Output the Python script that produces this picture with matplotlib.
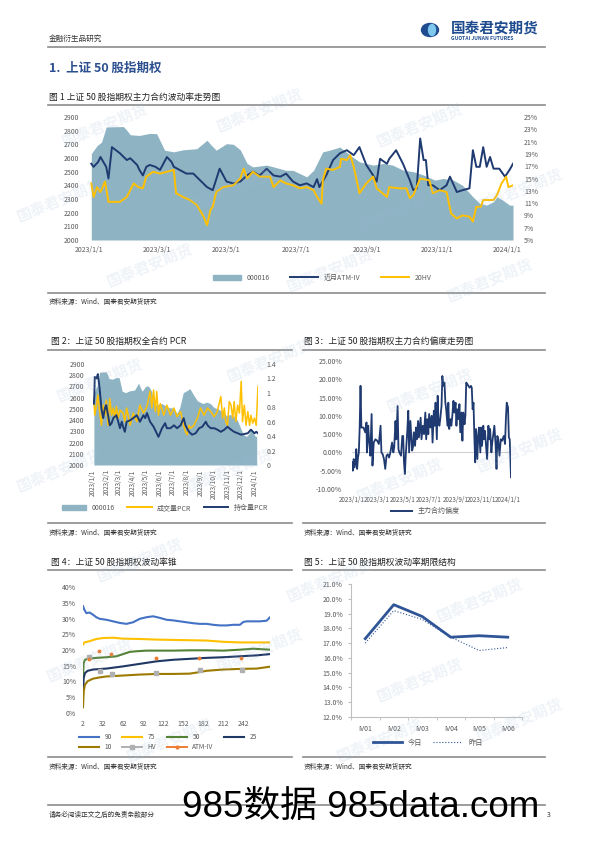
import numpy as np
import matplotlib
matplotlib.use("Agg")
from matplotlib import pyplot as plt
from matplotlib.lines import Line2D
from matplotlib.patches import Patch, Ellipse

plt.rcParams['font.family'] = ['Noto Sans CJK SC', 'DejaVu Sans']

# ---------------- data ----------------
# 000016 (SSE 50) index, days since 2023/1/1
idx_days = [2, 7, 11, 15, 30, 33, 36, 44, 53, 59, 66, 74, 82, 94, 103, 106, 111, 120, 126, 132,
            138, 143, 155, 161, 172, 178, 190, 196, 204, 210, 219, 228, 236, 242, 248, 257, 265,
            274, 283, 292, 302, 309, 318, 326, 335, 341, 347, 353, 356, 361, 367, 370]
idx_vals = [2632, 2690, 2717, 2827, 2830, 2803, 2770, 2765, 2780, 2778, 2657, 2645, 2660, 2668, 2730,
            2700, 2657, 2705, 2700, 2660, 2560, 2535, 2548, 2535, 2510, 2510, 2462, 2510, 2645, 2657,
            2680, 2620, 2572, 2560, 2548, 2560, 2548, 2511, 2500, 2475, 2438, 2450, 2438, 2400,
            2316, 2268, 2255, 2280, 2316, 2292, 2255, 2255]

# near month ATM-IV (%)
iv_days = [2, 4, 8, 10, 15, 17, 20, 27, 33, 36, 42, 44, 47, 50, 53, 58, 62, 68, 72, 74, 79, 85, 91,
           97, 103, 108, 114, 120, 126, 132, 138, 143, 149, 155, 161, 167, 172, 178, 184, 190, 196,
           199, 201, 207, 213, 219, 225, 231, 236, 242, 248, 251, 254, 260, 262, 268, 274, 280, 283,
           286, 289, 292, 294, 296, 300, 306, 312, 315, 321, 326, 332, 335, 338, 341, 344, 347, 350,
           353, 358, 363, 367, 370]
iv_vals = [17.4, 16.9, 17.7, 18.5, 16.9, 15.0, 20.1, 19.1, 18.0, 18.3, 17.2, 16.4, 15.5, 16.9, 17.2,
           16.9, 16.4, 18.5, 17.7, 16.9, 16.4, 15.8, 15.8, 14.7, 13.6, 13.1, 16.6, 14.5, 14.2, 14.5,
           15.5, 16.1, 15.5, 16.6, 15.5, 15.3, 15.8, 14.5, 13.9, 14.2, 13.6, 14.9, 13.6, 15.5, 18.0,
           19.1, 19.6, 18.8, 20.1, 17.2, 15.5, 14.5, 18.2, 17.4, 18.2, 19.6, 17.4, 14.7, 13.1, 13.4,
           21.5, 18.0, 18.0, 13.9, 13.9, 13.1, 13.9, 15.3, 12.8, 13.1, 13.4, 19.6, 16.9, 16.9, 20.1,
           16.9, 18.5, 16.6, 16.6, 15.3, 16.4, 17.4]

# 20 day HV (%)
hv_days = [2, 4, 7, 10, 14, 17, 27, 33, 39, 43, 47, 50, 56, 62, 68, 74, 76, 82, 88, 94, 100, 103, 106,
           108, 111, 117, 126, 132, 135, 138, 143, 149, 158, 161, 167, 172, 178, 184, 190, 196, 199,
           203, 204, 207, 213, 219, 220, 225, 228, 231, 236, 242, 248, 251, 260, 262, 271, 277, 280,
           283, 289, 297, 300, 306, 312, 316, 321, 326, 332, 335, 338, 342, 344, 353, 356, 360, 364,
           366, 370]
hv_vals = [14.2, 12.0, 13.6, 12.8, 14.5, 11.2, 11.2, 12.0, 14.2, 13.6, 13.4, 15.3, 16.1, 15.8, 16.1,
           16.4, 12.6, 12.0, 11.5, 10.7, 8.8, 7.4, 9.9, 10.4, 12.8, 13.6, 13.9, 15.0, 16.6, 15.0, 16.1,
           15.3, 15.3, 13.6, 14.7, 14.2, 13.9, 13.4, 13.6, 13.1, 12.0, 10.9, 14.7, 16.6, 16.4, 16.9,
           18.2, 18.0, 18.8, 16.9, 12.6, 14.2, 15.3, 13.4, 12.0, 13.6, 13.4, 13.4, 11.8, 12.3, 15.0,
           14.7, 12.6, 13.1, 12.8, 9.3, 8.5, 9.0, 8.8, 8.0, 10.4, 10.4, 11.5, 11.5, 12.3, 14.2, 15.3,
           13.6, 13.9]

month_ticks = [0, 59, 120, 181, 243, 304, 365]
month_labels = ['2023/1/1', '2023/3/1', '2023/5/1', '2023/7/1', '2023/9/1', '2023/11/1', '2024/1/1']
all_month_ticks = [0, 31, 59, 90, 120, 151, 181, 212, 243, 273, 304, 334, 365]
all_month_labels = ['2023/1/1', '2023/2/1', '2023/3/1', '2023/4/1', '2023/5/1', '2023/6/1', '2023/7/1',
                    '2023/8/1', '2023/9/1', '2023/10/1', '2023/11/1', '2023/12/1', '2024/1/1']

# PCR
vol_pcr_days = [2, 4, 8, 11, 15, 19, 23, 27, 30, 34, 38, 42, 46, 49, 53, 57, 61, 68, 72, 76, 84, 91,
                99, 106, 114, 122, 129, 133, 137, 141, 144, 148, 152, 160, 167, 175, 183, 190, 198,
                205, 209, 213, 217, 221, 228, 236, 243, 251, 259, 266, 274, 281, 289, 293, 297, 300,
                304, 308, 312, 316, 319, 323, 327, 331, 335, 338, 342, 346, 350, 354, 357, 361, 365,
                369, 373]
vol_pcr = [0.88, 0.69, 0.83, 0.97, 0.74, 0.55, 0.83, 0.69, 0.90, 0.55, 0.92, 0.69, 0.79, 0.65, 0.81,
           0.65, 0.76, 0.72, 0.60, 0.79, 0.55, 0.72, 0.60, 0.83, 0.72, 0.81, 1.02, 0.79, 1.04, 0.74,
           1.02, 0.69, 0.85, 0.69, 0.83, 0.69, 0.79, 0.67, 0.74, 0.55, 0.46, 0.42, 0.55, 0.51, 0.55,
           0.65, 0.79, 0.69, 0.79, 0.74, 0.67, 0.74, 0.95, 0.65, 0.79, 0.60, 0.55, 0.88, 0.83, 0.65,
           0.88, 0.60, 0.83, 0.72, 1.16, 0.60, 0.83, 0.55, 0.74, 0.55, 0.69, 0.58, 0.65, 0.55, 1.09]
oi_pcr_days = [2, 3, 4, 8, 11, 15, 19, 23, 27, 30, 34, 38, 42, 46, 53, 61, 65, 68, 72, 76, 84, 91, 99,
               106, 114, 118, 122, 129, 137, 144, 148, 156, 163, 167, 175, 183, 190, 198, 205, 209,
               217, 224, 232, 240, 247, 255, 259, 266, 274, 281, 289, 297, 304, 312, 319, 327, 335,
               342, 350, 357, 365, 369, 373]
oi_pcr = [0.85, 0.97, 1.22, 1.20, 1.26, 1.06, 0.79, 0.65, 0.79, 0.83, 0.69, 0.55, 0.58, 0.65, 0.69,
          0.51, 0.60, 0.53, 0.46, 0.60, 0.62, 0.65, 0.69, 0.60, 0.69, 0.65, 0.72, 0.60, 0.53, 0.44,
          0.39, 0.51, 0.58, 0.51, 0.51, 0.55, 0.51, 0.55, 0.65, 0.55, 0.46, 0.42, 0.44, 0.51, 0.53,
          0.60, 0.55, 0.51, 0.51, 0.49, 0.46, 0.49, 0.53, 0.49, 0.46, 0.44, 0.42, 0.43, 0.44, 0.49,
          0.44, 0.46, 0.44]

# main contract skew (%)
skew_days = [0, 2, 4, 6, 9, 10, 12, 14, 16, 18, 20, 22, 27, 31, 34, 35, 38, 40, 43, 46, 48, 51, 55,
             59, 63, 67, 69, 72, 75, 78, 81, 84, 87, 90, 94, 97, 99, 102, 104, 107, 109, 111, 115,
             118, 120, 122, 124, 126, 130, 132, 134, 137, 139, 141, 143, 145, 148, 150, 152, 155,
             157, 161, 163, 166, 169, 172, 174, 177, 179, 181, 184, 187, 189, 192, 194, 196, 199,
             201, 203, 205, 207, 210, 212, 214, 217, 219, 221, 224, 226, 228, 231, 233, 235, 238,
             240, 243, 245, 247, 250, 252, 254, 257, 259, 261, 264, 266, 268, 271, 273, 276, 279,
             281, 283, 285, 287, 289, 291, 294, 296, 298, 301, 303, 305, 308, 310, 312, 315, 317,
             320, 322, 324, 327, 329, 331, 334, 337, 339, 341, 343, 346, 349, 352, 356, 359, 361,
             363, 366, 368, 370, 373]
skew_vals = [-2.7, -5.0, -1.8, -4.1, -2.3, 0.9, -4.5, -1.4, 0.0, 6.8, 18.2, 6.8, 6.8, 5.5, 8.2, 0.0,
             7.3, 3.6, -0.9, 10.5, -3.6, 2.7, 3.6, 3.2, 2.3, 7.3, 0.0, -0.5, -1.8, -4.5, -0.9, -0.5,
             -1.4, 0.0, 2.7, 0.0, 1.4, 8.6, 3.6, 12.7, 0.9, 0.0, -0.9, 4.5, 4.5, -2.7, -5.9, -0.9,
             6.4, 11.4, 0.0, 8.6, 4.5, 0.5, 1.4, 5.5, 1.8, 6.8, 3.6, 8.6, 4.1, 9.5, 3.6, 7.3, 5.0,
             10.9, 3.6, 9.1, 5.0, 10.5, 6.8, 10.0, 2.7, 11.4, 7.3, 13.6, 3.6, 15.5, 8.2, 7.3, 9.1,
             12.7, 20.9, 18.2, 19.1, 13.6, 11.8, 7.3, 13.6, 6.4, 9.1, 7.3, 9.5, 14.1, 10.9, 13.6, 7.3,
             11.8, 9.1, 13.2, 5.5, 10.9, 3.2, 10.9, 7.7, 10.0, 19.1, 18.6, 18.2, 17.7, 18.2, 17.7,
             11.8, 13.6, 4.5, -2.7, 6.4, -1.8, 4.5, 6.8, 0.0, 6.8, 1.8, 7.3, 3.6, 5.9, 0.9, -1.8, 7.3,
             3.6, 6.4, 0.0, 2.7, 4.5, 7.3, 1.8, -4.5, 4.5, 3.6, -0.9, 3.6, 3.2, 4.5, 2.3, 9.1, 13.6,
             12.3, 4.1, 3.6, -6.8]

# volatility cone (%), x = days to expiry
cone90_x = [2, 4, 7, 12, 17, 22, 27, 37, 47, 57, 67, 77, 87, 97, 107, 117, 127, 137, 147, 157, 167,
            177, 187, 197, 207, 217, 227, 237, 242, 247, 257, 267, 277, 282]
cone90 = [33.9, 32.8, 31.7, 31.9, 31.2, 30.4, 29.9, 29.6, 29.1, 28.6, 28.3, 28.8, 29.9, 30.4, 30.7,
          30.2, 29.6, 29.4, 29.1, 28.8, 28.5, 28.3, 28.3, 28.0, 27.8, 27.8, 28.0, 28.0, 28.9, 29.1,
          29.1, 29.1, 29.3, 30.4]
cone75_x = [2, 4, 12, 22, 32, 47, 62, 87, 112, 137, 162, 187, 212, 237, 282]
cone75 = [21.7, 22.4, 22.8, 23.5, 23.8, 23.9, 23.6, 23.5, 23.3, 23.2, 23.1, 23.0, 22.6, 22.4, 22.4]
cone50_x = [2, 3, 5, 9, 22, 37, 52, 62, 72, 82, 97, 137, 162, 187, 212, 237, 257, 282]
cone50 = [11.6, 15.9, 16.9, 17.2, 17.5, 17.7, 18.0, 18.7, 19.4, 19.6, 19.8, 19.8, 19.9, 19.9, 19.8,
          20.1, 20.4, 20.1]
cone25_x = [2, 3, 5, 9, 17, 37, 62, 87, 112, 137, 162, 187, 212, 237, 262, 282]
cone25 = [5.3, 11.1, 12.7, 13.4, 13.8, 14.1, 14.8, 15.6, 16.4, 16.9, 17.2, 17.5, 17.7, 18.0, 18.3, 18.7]
cone10_x = [2, 3, 5, 9, 17, 27, 37, 62, 87, 112, 137, 162, 177, 187, 212, 237, 262, 282]
cone10 = [1.8, 6.9, 9.0, 10.1, 10.9, 11.3, 11.6, 11.9, 12.2, 12.4, 12.4, 12.5, 13.0, 13.4, 13.8, 14.0,
          14.1, 14.7]
cone_hv_x = [11, 27, 46, 111, 177, 240]
cone_hv = [17.7, 13.4, 12.4, 12.7, 13.7, 13.7]
cone_iv_x = [11, 26, 44, 111, 176, 238]
cone_iv = [17.3, 19.6, 18.8, 17.4, 17.5, 17.4]

# term structure
terms = ['IV01', 'IV02', 'IV03', 'IV04', 'IV05', 'IV06']
today = [17.3, 19.6, 18.8, 17.4, 17.5, 17.4]
yesterday = [17.0, 19.2, 18.6, 17.4, 16.5, 16.7]

# ---------------- colors ----------------
AREA = '#8EB4C4'
NAVY = '#1F3A70'
GOLD = '#FFC000'
TICK = '#595959'
RULE = '#8C8C8C'

W, H = 595, 842
fig = plt.figure(figsize=(W / 100, H / 100), dpi=100)


def rect(x0, y0, x1, y1):
    return [x0 / W, 1 - y1 / H, (x1 - x0) / W, (y1 - y0) / H]


def text(x, y, s, **kw):
    fig.text(x / W, 1 - y / H, s, va='center', **kw)


def rule(x0, x1, y, color=RULE, lw=1.2):
    fig.add_artist(Line2D([x0 / W, x1 / W], [1 - y / H, 1 - y / H], color=color, lw=lw))


def clean(ax):
    for s in ax.spines.values():
        s.set_visible(False)
    ax.tick_params(length=0, labelsize=5, colors=TICK)


pct = lambda v, p: f'{v:.0f}%'

# ---------------- header ----------------
text(49, 39, '金融衍生品研究', fontsize=5.5, color='#333333')
fig.add_artist(Ellipse((430 / W, 1 - 30 / H), 17 / W, 13 / H, color='#1E4C8E'))
fig.add_artist(Ellipse((432 / W, 1 - 30 / H), 7 / W, 11 / H, color='#7FC8EE'))
text(451, 28, '国泰君安期货', fontsize=10.5, color='#1E4C8E', fontweight='bold')
text(451, 39, 'GUOTAI JUNAN FUTURES', fontsize=3.6, color='#1E4C8E', fontweight='bold')
rule(48, 545, 47)
text(49, 68, '1.  上证 50 股指期权', fontsize=9, color='#2C4F8F', fontweight='bold')

# ---------------- figure 1 ----------------
text(49, 97, '图 1 上证 50 股指期权主力合约波动率走势图', fontsize=6.3, color='#222222')
rule(48, 545, 105)
ax1 = fig.add_axes(rect(89, 117, 513, 240))
ax1.fill_between(idx_days, idx_vals, 2000, color=AREA, lw=0)
ax1.set_xlim(2, 370)
ax1.set_ylim(2000, 2900)
ax1.set_yticks(range(2000, 2901, 100))
ax1.set_xticks(month_ticks)
ax1.set_xticklabels(month_labels)
clean(ax1)
ax1.tick_params(axis='y', pad=7)
ax1.tick_params(axis='x', pad=4)
ax1r = ax1.twinx()
ax1r.plot(iv_days, iv_vals, color=NAVY, lw=1.4)
ax1r.plot(hv_days, hv_vals, color=GOLD, lw=1.4)
ax1r.set_ylim(5, 25)
ax1r.set_yticks(range(5, 26, 2))
ax1r.yaxis.set_major_formatter(pct)
clean(ax1r)
ax1r.tick_params(axis='y', pad=8)
h1 = [Patch(color=AREA), Line2D([], [], color=NAVY, lw=1.4), Line2D([], [], color=GOLD, lw=1.4)]
fig.legend(h1, ['000016', '近月ATM-IV', '20HV'], loc='center', bbox_to_anchor=(322 / W, 1 - 278 / H),
           ncol=3, frameon=False, fontsize=5, handlelength=4, handleheight=0.9, columnspacing=3,
           labelcolor=TICK)
rule(48, 545, 293)
text(49, 302, '资料来源：Wind、国泰君安期货研究', fontsize=4.8, color='#333333')

# ---------------- figure 2 ----------------
text(51, 341, '图 2：上证 50 股指期权全合约 PCR', fontsize=6.3, color='#222222')
rule(48, 292, 350)
ax2 = fig.add_axes(rect(93, 364, 258, 465))
ax2.fill_between(idx_days, idx_vals, 2000, color=AREA, lw=0)
ax2.set_xlim(0, 373)
ax2.set_ylim(2000, 2900)
ax2.set_yticks(range(2000, 2901, 100))
ax2.set_xticks(all_month_ticks)
ax2.set_xticklabels(all_month_labels, rotation=90)
clean(ax2)
ax2.tick_params(axis='y', pad=6)
ax2.tick_params(axis='x', pad=3, labelsize=4.6)
ax2r = ax2.twinx()
ax2r.plot(vol_pcr_days, vol_pcr, color=GOLD, lw=1.1)
ax2r.plot(oi_pcr_days, oi_pcr, color=NAVY, lw=1.4)
ax2r.set_ylim(0, 1.4)
ax2r.set_yticks(np.arange(0, 1.41, 0.2))
ax2r.yaxis.set_major_formatter(lambda v, p: f'{v:g}')
clean(ax2r)
ax2r.tick_params(axis='y', pad=6)
h2 = [Patch(color=AREA), Line2D([], [], color=GOLD, lw=1.4), Line2D([], [], color=NAVY, lw=1.4)]
fig.legend(h2, ['000016', '成交量PCR', '持仓量PCR'], loc='center', bbox_to_anchor=(165 / W, 1 - 508 / H),
           ncol=3, frameon=False, fontsize=5, handlelength=3.5, handleheight=0.9, columnspacing=1.8,
           labelcolor=TICK)
rule(48, 292, 523)
text(49, 533, '资料来源：Wind、国泰君安期货研究', fontsize=4.8, color='#333333')

# ---------------- figure 3 ----------------
text(304, 341, '图 3：上证 50 股指期权主力合约偏度走势图', fontsize=6.3, color='#222222')
rule(303, 545, 350)
ax3 = fig.add_axes(rect(352, 361, 511, 489))
ax3.axhline(0, color='#D0D0D0', lw=0.8)
ax3.plot(skew_days, skew_vals, color=NAVY, lw=1.3)
ax3.set_xlim(0, 373)
ax3.set_ylim(-10, 25)
ax3.set_yticks(range(-10, 26, 5))
ax3.yaxis.set_major_formatter(lambda v, p: f'{v:.2f}%')
ax3.set_xticks(month_ticks)
ax3.set_xticklabels(month_labels)
clean(ax3)
ax3.tick_params(axis='y', pad=7)
ax3.tick_params(axis='x', pad=5, labelsize=4.5)
fig.legend([Line2D([], [], color=NAVY, lw=1.4)], ['主力合约偏度'], loc='center',
           bbox_to_anchor=(425 / W, 1 - 511 / H), frameon=False, fontsize=5, handlelength=3,
           labelcolor=TICK)
rule(303, 545, 523)
text(304, 533, '资料来源：Wind、国泰君安期货研究', fontsize=4.8, color='#333333')

# ---------------- figure 4 ----------------
text(51, 562, '图 4：上证 50 股指期权波动率锥', fontsize=6.3, color='#222222')
rule(48, 292, 570)
ax4 = fig.add_axes(rect(83, 587, 270, 713))
c90, = ax4.plot(cone90_x, cone90, color='#4472C4', lw=1.5)
c75, = ax4.plot(cone75_x, cone75, color=GOLD, lw=1.5)
c50, = ax4.plot(cone50_x, cone50, color='#548235', lw=1.5)
c25, = ax4.plot(cone25_x, cone25, color='#203864', lw=1.5)
c10, = ax4.plot(cone10_x, cone10, color='#9C7A00', lw=1.5)
ax4.plot(cone_hv_x, cone_hv, ls='none', marker='s', ms=3.4, color='#B0B0B0')
ax4.plot(cone_iv_x, cone_iv, ls='none', marker='o', ms=1.8, color='#ED7D31')
ax4.set_xlim(2, 282)
ax4.set_ylim(0, 40)
ax4.set_yticks(range(0, 41, 5))
ax4.yaxis.set_major_formatter(pct)
ax4.set_xticks(range(2, 243, 30))
clean(ax4)
ax4.tick_params(axis='y', pad=5)
ax4.tick_params(axis='x', pad=5)
hv_h = Line2D([], [], color='#B0B0B0', lw=1.4, marker='s', ms=3)
iv_h = Line2D([], [], color='#ED7D31', lw=1.4, marker='o', ms=2)
# legend fills column by column: order so rows read 90 75 50 25 / 10 HV ATM-IV
fig.legend([c90, c10, c75, hv_h, c50, iv_h, c25], ['90', '10', '75', 'HV', '50', 'ATM-IV', '25'],
           loc='center', bbox_to_anchor=(168 / W, 1 - 742 / H), ncol=4, frameon=False, fontsize=4.8,
           handlelength=3, columnspacing=1.6, labelspacing=0.3, labelcolor=TICK)
rule(48, 292, 757)
text(49, 767, '资料来源：Wind、国泰君安期货研究', fontsize=4.8, color='#333333')

# ---------------- figure 5 ----------------
text(304, 562, '图 5：上证 50 股指期权波动率期限结构', fontsize=6.3, color='#222222')
rule(303, 545, 570)
ax5 = fig.add_axes(rect(351, 584, 522, 717))
l_today, = ax5.plot(terms, today, color='#2F5597', lw=2)
l_yest, = ax5.plot(terms, yesterday, color='#2F5597', lw=0.8, ls=':')
ax5.set_xlim(-0.5, 5.5)
ax5.set_ylim(12, 21)
ax5.set_yticks(range(12, 22))
ax5.yaxis.set_major_formatter(lambda v, p: f'{v:.1f}%')
for s in ['top', 'right']:
    ax5.spines[s].set_visible(False)
for s in ['left', 'bottom']:
    ax5.spines[s].set_color('#BFBFBF')
    ax5.spines[s].set_linewidth(0.8)
ax5.tick_params(labelsize=5, colors=TICK)
ax5.tick_params(axis='y', length=2, color='#BFBFBF', pad=4)
ax5.tick_params(axis='x', length=0, pad=6)
ax5.set_xticks(np.arange(-0.5, 5.6, 1), minor=True)
ax5.tick_params(axis='x', which='minor', length=2, color='#BFBFBF')
fig.legend([l_today, l_yest], ['今日', '昨日'], loc='center', bbox_to_anchor=(428 / W, 1 - 743 / H),
           ncol=2, frameon=False, fontsize=5.2, handlelength=4, columnspacing=1.5, labelcolor=TICK)
rule(303, 545, 757)
text(304, 767, '资料来源：Wind、国泰君安期货研究', fontsize=4.8, color='#333333')

# ---------------- watermarks ----------------
for wx, wy in [(105, 125), (260, 110), (420, 125), (60, 200), (230, 190), (400, 210), (520, 190),
               (150, 265), (330, 270), (490, 280), (100, 380), (270, 360), (430, 390), (60, 470),
               (230, 470), (400, 480), (520, 450), (140, 560), (330, 580), (480, 600), (90, 660),
               (260, 650), (420, 680), (170, 740), (380, 740), (520, 720)]:
    fig.text(wx / W, 1 - wy / H, '国泰君安期货', fontsize=11, color='#9DB7D3', alpha=0.16,
             rotation=22, ha='center', va='center', fontweight='bold')

# ---------------- footer ----------------
rule(48, 545, 805)
text(49, 815, '请务必阅读正文之后的免责条款部分', fontsize=4.8, color='#333333')
text(547, 815, '3', fontsize=5, color='#333333')
fig.text(361 / W, 1 - 808 / H, '985数据 985data.com', fontsize=26.5, color='black', ha='center',
         va='center', family=['Liberation Sans', 'Noto Sans CJK SC'])

fig.savefig('out.png', dpi=100)
